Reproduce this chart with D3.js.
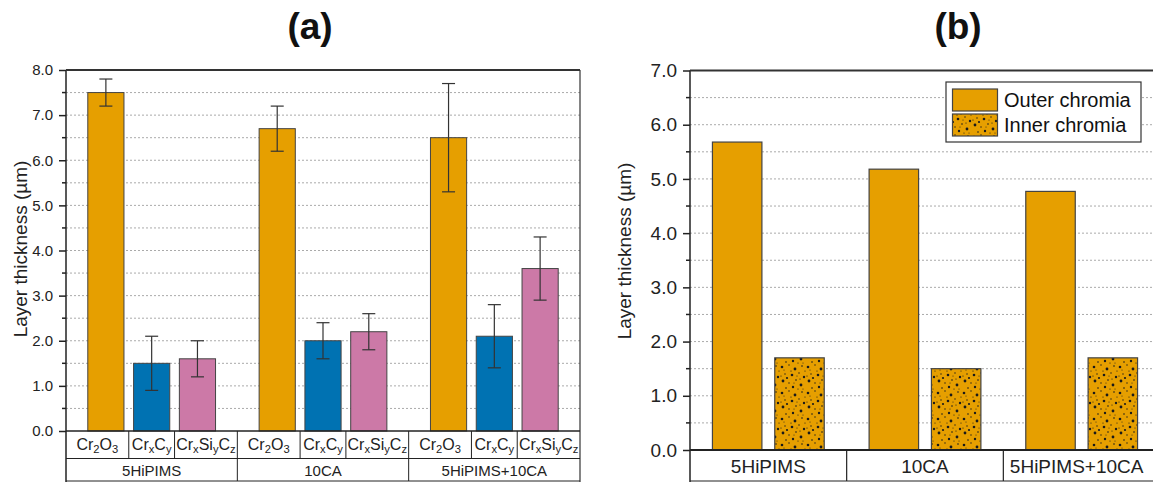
<!DOCTYPE html>
<html>
<head>
<meta charset="utf-8">
<script src="https://cdn.jsdelivr.net/npm/d3@7"></script>
<style>
  body { margin: 0; background: #fff; }
  svg { display: block; font-family: "Liberation Sans", Arial, sans-serif; }
</style>
</head>
<body>
<svg id="chart" width="1153" height="482"></svg>
<script>
// ---- data, panel (a) ----
const groupsA = ["5HiPIMS", "10CA", "5HiPIMS+10CA"];
const layersA = ["Cr_2O_3", "Cr_xC_y", "Cr_xSi_yC_z"];
const cr2o3 = [7.5, 6.7, 6.5];
const cr2o3Err = [0.3, 0.5, 1.2];
const crxcy = [1.5, 2.0, 2.1];
const crxcyErr = [0.6, 0.4, 0.7];
const crxsiycz = [1.6, 2.2, 3.6];
const crxsiyczErr = [0.4, 0.4, 0.7];
const ticksA = [0, 1, 2, 3, 4, 5, 6, 7, 8];

// ---- data, panel (b) ----
const groupsB = ["5HiPIMS", "10CA", "5HiPIMS+10CA"];
const seriesB = ["Outer chromia", "Inner chromia"];
const outerChromia = [5.68, 5.18, 4.77];
const innerChromia = [1.7, 1.5, 1.7];
const ticksB = [0, 1, 2, 3, 4, 5, 6, 7];

const colors = { Cr_2O_3: "#E69F00", Cr_xC_y: "#0072B2", Cr_xSi_yC_z: "#CC79A7" };
const orange = "#E69F00";

const svg = d3.select("#chart");
svg.append("rect").attr("width", 1153).attr("height", 482).attr("fill", "#fff");

// speckle texture for the inner chromia bars
const defs = svg.append("defs");
const pat = defs.append("pattern").attr("id", "speckle")
    .attr("patternUnits", "userSpaceOnUse").attr("width", 26).attr("height", 26);
pat.append("rect").attr("width", 26).attr("height", 26).attr("fill", orange);
const specks = [[2,3,1.3],[9,1,0.7],[15,5,1.4],[22,2,0.8],[5,10,0.7],[12,11,1.3],[19,9,0.7],[24,13,1.2],
                [3,17,1.4],[9,19,0.7],[16,16,0.8],[21,21,1.4],[6,24,0.8],[13,23,1.2],[1,12,0.6],[18,25,0.6],
                [11,7,0.6],[25,7,0.6],[7,14,1.1],[20,15,0.6],[14,19,0.5],[23,25,0.5],[4,6,0.5],[17,12,0.5]];
pat.selectAll("circle").data(specks).join("circle")
    .attr("cx", d => d[0]).attr("cy", d => d[1]).attr("r", d => d[2]).attr("fill", "#1a1a1a");

// text with "_x" subscripts
function subText(sel, label, size) {
    const parts = label.split("_");
    sel.append("tspan").text(parts[0]);
    parts.slice(1).forEach(p => {
        sel.append("tspan").attr("baseline-shift", "-25%").attr("font-size", size * 0.7).text(p[0]);
        if (p.length > 1) sel.append("tspan").text(p.slice(1));
    });
}

function gridAndAxis(g, y, ticks, x0, x1, yTop, yBot, fs, withRight) {
    const minor = [];
    ticks.forEach((t, i) => { if (i < ticks.length - 1) minor.push(t + 0.5); });
    const all = ticks.slice(1, -1).concat(minor);
    g.append("g").selectAll("line").data(all).join("line")
        .attr("x1", x0).attr("x2", x1).attr("y1", d => y(d)).attr("y2", d => y(d))
        .attr("stroke", "#aaa").attr("stroke-width", 1).attr("stroke-dasharray", "2,2");

    const axis = d3.axisLeft(y).tickValues(ticks).tickFormat(d3.format(".1f"))
        .tickSize(7).tickPadding(6);
    const ag = g.append("g").attr("transform", `translate(${x0},0)`).call(axis);
    ag.select(".domain").remove();
    ag.selectAll(".tick line").attr("stroke", "#222").attr("stroke-width", 1.5);
    ag.selectAll(".tick text").attr("font-size", fs).attr("fill", "#222")
        .attr("font-family", "Liberation Sans, Arial, sans-serif");
    g.append("g").selectAll("line").data(minor).join("line")
        .attr("x1", x0 - 4).attr("x2", x0).attr("y1", d => y(d)).attr("y2", d => y(d))
        .attr("stroke", "#222").attr("stroke-width", 1.5);

    g.append("line").attr("x1", x0).attr("x2", x0).attr("y1", yTop).attr("y2", 482)
        .attr("stroke", "#222").attr("stroke-width", 1.5);
    g.append("line").attr("x1", x0).attr("x2", x1).attr("y1", yTop).attr("y2", yTop)
        .attr("stroke", "#333").attr("stroke-width", 2);
    if (withRight) {
        g.append("line").attr("x1", x1).attr("x2", x1).attr("y1", yTop).attr("y2", 482)
            .attr("stroke", "#333").attr("stroke-width", 1.2);
    }
}

// ================= panel (a) =================
{
    const x0 = 66, x1 = 580, yTop = 70, yBot = 431;
    const g = svg.append("g");
    const y = d3.scaleLinear().domain([0, 8]).range([yBot, yTop]);
    const xg = d3.scaleBand().domain(groupsA).range([x0, x1]);
    const xs = d3.scaleBand().domain(layersA).range([0, xg.bandwidth()])
        .paddingInner(0.21).paddingOuter(0.476);

    gridAndAxis(g, y, ticksA, x0, x1, yTop, yBot, 15, true);

    const vals = { Cr_2O_3: cr2o3, Cr_xC_y: crxcy, Cr_xSi_yC_z: crxsiycz };
    const errs = { Cr_2O_3: cr2o3Err, Cr_xC_y: crxcyErr, Cr_xSi_yC_z: crxsiyczErr };
    const rows = [];
    groupsA.forEach((grp, gi) => layersA.forEach(l => rows.push({ grp, l, v: vals[l][gi], e: errs[l][gi] })));

    g.append("g").selectAll("rect").data(rows).join("rect")
        .attr("x", d => xg(d.grp) + xs(d.l)).attr("width", xs.bandwidth())
        .attr("y", d => y(d.v)).attr("height", d => y(0) - y(d.v))
        .attr("fill", d => colors[d.l]).attr("stroke", "#444").attr("stroke-width", 1);

    const eb = g.append("g").attr("stroke", "#333").attr("stroke-width", 1.2);
    rows.forEach(d => {
        const cx = xg(d.grp) + xs(d.l) + xs.bandwidth() / 2;
        eb.append("line").attr("x1", cx).attr("x2", cx).attr("y1", y(d.v + d.e)).attr("y2", y(d.v - d.e));
        [d.v + d.e, d.v - d.e].forEach(v => eb.append("line")
            .attr("x1", cx - 6.5).attr("x2", cx + 6.5).attr("y1", y(v)).attr("y2", y(v)));
    });

    // bottom axis and label table
    g.append("line").attr("x1", x0).attr("x2", x1).attr("y1", yBot).attr("y2", yBot)
        .attr("stroke", "#222").attr("stroke-width", 1.5);
    const rowMid = 458.5, rowEnd = 481;
    const tbl = g.append("g").attr("stroke", "#222").attr("stroke-width", 1);
    tbl.append("line").attr("x1", x0).attr("x2", x1).attr("y1", rowMid).attr("y2", rowMid);
    tbl.append("line").attr("x1", x0).attr("x2", x1).attr("y1", rowEnd).attr("y2", rowEnd);
    groupsA.forEach((grp, gi) => {
        const gx = xg(grp);
        if (gi > 0) tbl.append("line").attr("x1", gx).attr("x2", gx).attr("y1", yBot).attr("y2", rowEnd);
        // cell edges: group edges and midpoints between neighbouring bars
        const edges = [gx];
        layersA.slice(1).forEach(l => {
            const sx = gx + xs(l) - xs.step() * xs.paddingInner() / 2;
            edges.push(sx);
            tbl.append("line").attr("x1", sx).attr("x2", sx).attr("y1", yBot).attr("y2", rowMid);
        });
        edges.push(gx + xg.bandwidth());
        layersA.forEach((l, li) => {
            const t = g.append("text").attr("x", (edges[li] + edges[li + 1]) / 2).attr("y", 450)
                .attr("text-anchor", "middle").attr("font-size", 16).attr("fill", "#222");
            subText(t, l, 16);
        });
        g.append("text").attr("x", gx + xg.bandwidth() / 2).attr("y", 476)
            .attr("text-anchor", "middle").attr("font-size", 15).attr("fill", "#222").text(grp);
    });

    g.append("text").attr("transform", "translate(27,249) rotate(-90)")
        .attr("text-anchor", "middle").attr("font-size", 19).attr("fill", "#222")
        .text("Layer thickness (µm)");
    svg.append("text").attr("x", 310).attr("y", 39).attr("text-anchor", "middle")
        .attr("font-size", 37).attr("font-weight", "bold").attr("fill", "#111").text("(a)");
}

// ================= panel (b) =================
{
    const x0 = 690, x1 = 1160, yTop = 70.5, yBot = 450;
    const g = svg.append("g");
    const y = d3.scaleLinear().domain([0, 7]).range([yBot, yTop]);
    const xg = d3.scaleBand().domain(groupsB).range([x0, x1]);
    const xs = d3.scaleBand().domain(seriesB).range([0, xg.bandwidth()])
        .paddingInner(0.206).paddingOuter(0.36);

    gridAndAxis(g, y, ticksB, x0, x1, yTop, yBot, 19, false);

    const vals = { "Outer chromia": outerChromia, "Inner chromia": innerChromia };
    const fills = { "Outer chromia": orange, "Inner chromia": "url(#speckle)" };
    const rows = [];
    groupsB.forEach((grp, gi) => seriesB.forEach(s => rows.push({ grp, s, v: vals[s][gi] })));

    g.append("g").selectAll("rect").data(rows).join("rect")
        .attr("x", d => xg(d.grp) + xs(d.s)).attr("width", xs.bandwidth())
        .attr("y", d => y(d.v)).attr("height", d => y(0) - y(d.v))
        .attr("fill", d => fills[d.s]).attr("stroke", "#444").attr("stroke-width", 1.2);

    g.append("line").attr("x1", x0).attr("x2", x1).attr("y1", yBot).attr("y2", yBot)
        .attr("stroke", "#222").attr("stroke-width", 2);
    const rowEnd = 481;
    const tbl = g.append("g").attr("stroke", "#222").attr("stroke-width", 1.2);
    tbl.append("line").attr("x1", x0).attr("x2", x1).attr("y1", rowEnd).attr("y2", rowEnd);
    groupsB.forEach((grp, gi) => {
        const gx = xg(grp);
        if (gi > 0) tbl.append("line").attr("x1", gx).attr("x2", gx).attr("y1", yBot).attr("y2", rowEnd);
        g.append("text").attr("x", gx + xg.bandwidth() / 2 - (gi === 2 ? 5 : 0)).attr("y", 473)
            .attr("text-anchor", "middle").attr("font-size", 19).attr("fill", "#222").text(grp);
    });

    // legend
    const lg = g.append("g").attr("transform", "translate(946,82)");
    lg.append("rect").attr("width", 195).attr("height", 60).attr("fill", "#fff")
        .attr("stroke", "#333").attr("stroke-width", 1.2);
    seriesB.forEach((s, i) => {
        lg.append("rect").attr("x", 6.5).attr("y", 7 + i * 25).attr("width", 45).attr("height", 22)
            .attr("fill", fills[s]).attr("stroke", "#444").attr("stroke-width", 1.2);
        lg.append("text").attr("x", 58).attr("y", 24.5 + i * 25).attr("font-size", 20)
            .attr("fill", "#111").text(s);
    });

    g.append("text").attr("transform", "translate(631,251) rotate(-90)")
        .attr("text-anchor", "middle").attr("font-size", 19).attr("fill", "#222")
        .text("Layer thickness (µm)");
    svg.append("text").attr("x", 958).attr("y", 39).attr("text-anchor", "middle")
        .attr("font-size", 37).attr("font-weight", "bold").attr("fill", "#111").text("(b)");
}
</script>
</body>
</html>
